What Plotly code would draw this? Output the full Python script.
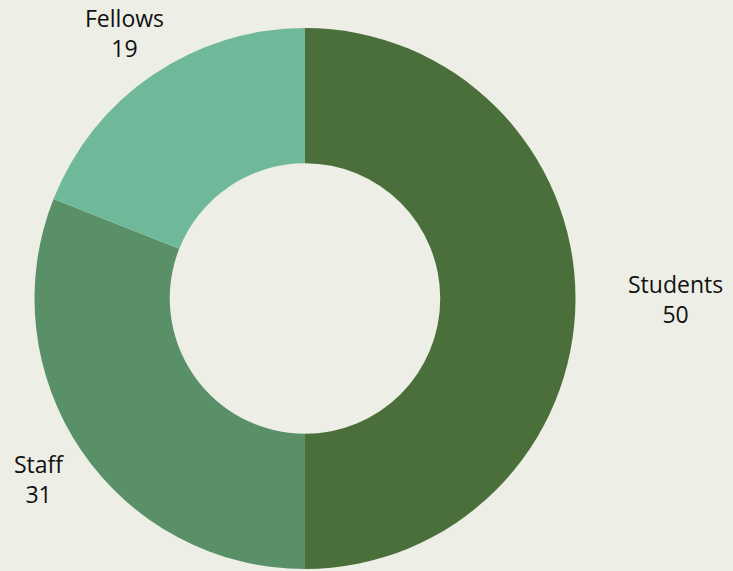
import math
import plotly.graph_objects as go

labels = ["Students", "Staff", "Fellows"]
values = [50, 31, 19]
colors = ["#4B6F3B", "#5A9068", "#6FB899"]

W, H = 733, 571
cx, cy, r = 305, 298.5, 270.5
label_dist = 321
bg = "#EDEEE5"

fig = go.Figure(go.Pie(
    labels=labels,
    values=values,
    hole=0.5,
    sort=False,
    direction="clockwise",
    rotation=0,
    marker=dict(colors=colors, line=dict(width=0)),
    textinfo="none",
    showlegend=False,
    domain=dict(x=[(cx - r) / W, (cx + r) / W], y=[(H - cy - r) / H, (H - cy + r) / H]),
    hoverinfo="label+value",
))

total = sum(values)
acc = 0
for lab, val in zip(labels, values):
    mid = (acc + val / 2) / total * 2 * math.pi
    acc += val
    ux, uy = math.sin(mid), -math.cos(mid)
    px, py = cx + ux * label_dist, cy + uy * label_dist
    fig.add_annotation(
        x=px / W, y=1 - py / H, xref="paper", yref="paper",
        text=f"{lab}<br>{val}", showarrow=False,
        xanchor="left" if ux > 0.9 else "center", yanchor="middle",
        align="center",
        font=dict(family="Open Sans, sans-serif", size=23, color="#111111"),
    )

fig.update_layout(
    width=W, height=H,
    margin=dict(l=0, r=0, t=0, b=0),
    paper_bgcolor=bg,
    plot_bgcolor=bg,
)

fig.write_html(
    "out.html",
    config={"displayModeBar": False},
    post_script=f"document.body.style.margin='0';document.body.style.background='{bg}';",
)
